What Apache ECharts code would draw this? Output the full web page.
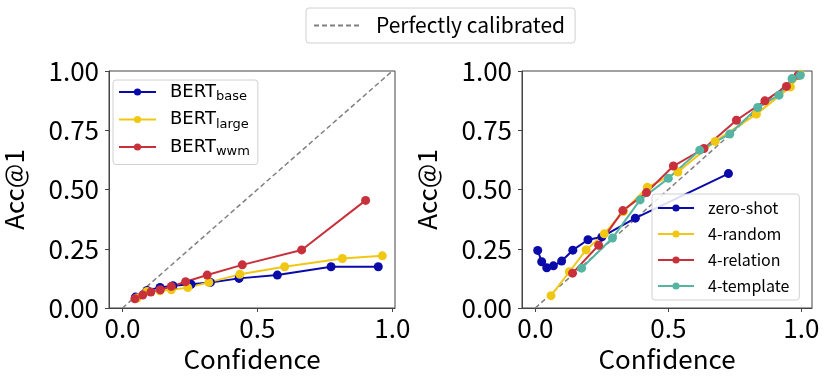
<!DOCTYPE html>
<html>
<head>
<meta charset="utf-8">
<script src="https://cdn.jsdelivr.net/npm/echarts@6/dist/echarts.min.js"></script>
<style>
  html, body { margin: 0; padding: 0; background: #fff; }
  #main { width: 830px; height: 380px; }
</style>
</head>
<body>
<div id="main"></div>
<script>
// left panel: BERT models (confidence, accuracy)
var bertBase = [[0.048, 0.046], [0.091, 0.074], [0.139, 0.087], [0.187, 0.094], [0.254, 0.100],
  [0.326, 0.108], [0.432, 0.125], [0.574, 0.139], [0.773, 0.174], [0.948, 0.174]];
var bertLarge = [[0.054, 0.042], [0.091, 0.070], [0.139, 0.073], [0.181, 0.077], [0.242, 0.086],
  [0.320, 0.108], [0.435, 0.142], [0.601, 0.174], [0.815, 0.209], [0.963, 0.220]];
var bertWwm = [[0.046, 0.039], [0.075, 0.055], [0.105, 0.067], [0.140, 0.077], [0.181, 0.091],
  [0.234, 0.111], [0.314, 0.139], [0.444, 0.182], [0.664, 0.245], [0.901, 0.454]];

// right panel: prompting settings
var zeroShot = [[0.009, 0.243], [0.024, 0.195], [0.043, 0.170], [0.068, 0.178], [0.099, 0.198],
  [0.141, 0.244], [0.198, 0.288], [0.250, 0.300], [0.376, 0.379], [0.726, 0.567]];
var random4 = [[0.059, 0.052], [0.128, 0.153], [0.191, 0.245], [0.259, 0.313], [0.331, 0.407],
  [0.421, 0.509], [0.536, 0.574], [0.676, 0.703], [0.831, 0.818], [0.959, 0.933], [0.996, 0.986]];
var relation4 = [[0.140, 0.147], [0.238, 0.265], [0.329, 0.411], [0.418, 0.487], [0.519, 0.599],
  [0.634, 0.673], [0.756, 0.792], [0.863, 0.874], [0.944, 0.935], [0.988, 0.982]];
var template4 = [[0.174, 0.168], [0.290, 0.295], [0.394, 0.456], [0.500, 0.547], [0.618, 0.666],
  [0.731, 0.734], [0.836, 0.846], [0.916, 0.898], [0.965, 0.968], [0.996, 0.982]];

var diagonal = [[0, 0], [1, 1]];
var xTicks = [0, 0.5, 1];

var blue = '#0a0aaa', yellow = '#f0c814', red = '#c8313b', teal = '#55b5a2';
var font = 'Noto Sans CJK JP';

var chart = echarts.init(document.getElementById('main'));

function xAxis(idx, max) {
  return {
    type: 'value', gridIndex: idx, min: -0.05, max: max,
    name: 'Confidence', nameLocation: 'middle', nameGap: 38,
    nameTextStyle: { fontFamily: font, fontSize: 26, color: '#000' },
    splitLine: { show: false },
    axisLine: { onZero: false, lineStyle: { color: '#444', width: 1 } },
    axisTick: { length: 4, customValues: xTicks, lineStyle: { color: '#444' } },
    axisLabel: {
      customValues: xTicks, fontFamily: font, fontSize: 26, color: '#000', margin: 7,
      formatter: function (v) { return v.toFixed(1); }
    }
  };
}
function yAxis(idx) {
  return {
    type: 'value', gridIndex: idx, min: 0, max: 1, interval: 0.25,
    name: 'Acc@1', nameLocation: 'middle', nameGap: 82, nameRotate: 90,
    nameTextStyle: { fontFamily: font, fontSize: 26, color: '#000' },
    splitLine: { show: false },
    axisLine: { show: true, onZero: false, lineStyle: { color: '#444', width: 1 } },
    axisTick: { show: true, length: 4, lineStyle: { color: '#444' } },
    axisLabel: {
      fontFamily: font, fontSize: 26, color: '#000', margin: 10,
      formatter: function (v) { return v.toFixed(2); }
    }
  };
}
function line(name, data, color, idx) {
  return {
    name: name, type: 'line', data: data, xAxisIndex: idx, yAxisIndex: idx,
    symbol: 'circle', symbolSize: 9, color: color,
    lineStyle: { width: 2, color: color }, itemStyle: { color: color },
    z: 3
  };
}
function diag(idx) {
  return {
    name: 'Perfectly calibrated', type: 'line', data: diagonal, xAxisIndex: idx, yAxisIndex: idx,
    symbol: 'none', color: '#808080',
    lineStyle: { width: 1.5, type: [5, 3], color: '#808080' }, z: 2
  };
}

var subs = { BERT_base: 'base', BERT_large: 'large', BERT_wwm: 'wwm' };
var legendBox = {
  orient: 'vertical', backgroundColor: 'rgba(255,255,255,0.85)',
  borderColor: '#d0d0d0', borderWidth: 1, borderRadius: 3
};

var option = {
  animation: false,
  grid: [
    { left: 103, top: 71, width: 292, height: 237, show: true, borderColor: '#444', borderWidth: 1 },
    { left: 522, top: 71, width: 290, height: 237, show: true, borderColor: '#444', borderWidth: 1 }
  ],
  xAxis: [xAxis(0, 1.01), xAxis(1, 1.04)],
  yAxis: [yAxis(0), yAxis(1)],
  legend: [
    Object.assign({}, legendBox, {
      data: ['Perfectly calibrated'], left: 306, top: 8, orient: 'horizontal',
      itemWidth: 45, itemHeight: 10, padding: [7, 10, 7, 7],
      itemStyle: { opacity: 0 },
      textStyle: { fontFamily: font, fontSize: 21, color: '#000', padding: [0, 0, 0, 12] }
    }),
    Object.assign({}, legendBox, {
      data: ['BERT_base', 'BERT_large', 'BERT_wwm'], left: 113, top: 80,
      itemWidth: 37, itemHeight: 9, itemGap: 7, padding: [3, 8, 6, 5],
      formatter: function (n) { return '{m|BERT}{s|' + subs[n] + '}'; },
      textStyle: {
        padding: [0, 0, 0, 9],
        rich: {
          m: { fontFamily: 'DejaVu Sans', fontSize: 18, color: '#000', lineHeight: 23 },
          s: { fontFamily: 'DejaVu Sans', fontSize: 13, color: '#000', lineHeight: 13, verticalAlign: 'bottom' }
        }
      }
    }),
    Object.assign({}, legendBox, {
      data: ['zero-shot', '4-random', '4-relation', '4-template'], left: 652, top: 194,
      itemWidth: 36, itemHeight: 9, itemGap: 10, padding: [6, 10, 6, 5],
      textStyle: { fontFamily: font, fontSize: 16, color: '#000', padding: [0, 0, 0, 9] }
    })
  ],
  series: [
    diag(0),
    line('BERT_base', bertBase, blue, 0),
    line('BERT_large', bertLarge, yellow, 0),
    line('BERT_wwm', bertWwm, red, 0),
    diag(1),
    line('zero-shot', zeroShot, blue, 1),
    line('4-random', random4, yellow, 1),
    line('4-relation', relation4, red, 1),
    line('4-template', template4, teal, 1)
  ]
};

chart.setOption(option);
</script>
</body>
</html>
